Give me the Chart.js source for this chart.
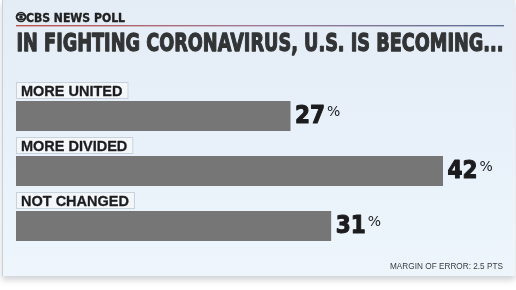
<!DOCTYPE html>
<html>
<head>
<meta charset="utf-8">
<script src="https://cdn.jsdelivr.net/npm/chart.js@4"></script>
<style>
  html, body { margin: 0; padding: 0; background: #ffffff; }
  #wrap { position: relative; width: 516px; height: 290px; }
  #panel {
    position: absolute; left: 2px; top: 0; width: 512px; height: 276px;
    background: linear-gradient(180deg, #e4edf6 0%, #e9f2fa 60%, #eef6fc 100%);
    border-left: 1px solid #c9d0d8;
    box-shadow: 0 4px 6px rgba(120,130,140,0.35);
  }
  canvas { position: absolute; left: 0; top: 0; }
</style>
</head>
<body>
<div id="wrap">
  <div id="panel"></div>
  <canvas id="poll" width="516" height="290"></canvas>
</div>
<script>
// Data
const categories = ['MORE UNITED', 'MORE DIVIDED', 'NOT CHANGED'];
const values = [27, 42, 31];
const brand = 'CBS NEWS POLL';
const title = 'IN FIGHTING CORONAVIRUS, U.S. IS BECOMING...';
const footnote = 'MARGIN OF ERROR: 2.5 PTS';

const ctx = document.getElementById('poll').getContext('2d');

// draw text squeezed to a given width, optionally thickened with a stroke
function fitText(c, txt, x, y, w, stroke) {
  const mw = c.measureText(txt).width;
  c.save();
  c.translate(x, y);
  c.scale(w / mw, 1);
  c.fillText(txt, 0, 0);
  if (stroke) {
    c.strokeStyle = c.fillStyle;
    c.lineWidth = stroke;
    c.lineJoin = 'round';
    c.strokeText(txt, 0, 0);
  }
  c.restore();
}

// header, category boxes, value labels
const decor = {
  id: 'decor',
  afterDatasetsDraw(chart) {
    const c = chart.ctx;
    c.save();
    c.textBaseline = 'alphabetic';
    c.textAlign = 'left';

    // CBS eye + brand
    c.fillStyle = '#222';
    c.strokeStyle = '#222';
    c.lineWidth = 1.5;
    c.beginPath();
    c.arc(21, 17, 4.5, 0, Math.PI * 2);
    c.stroke();
    c.beginPath();
    c.ellipse(21, 17, 4.5, 2.4, 0, 0, Math.PI * 2);
    c.stroke();
    c.beginPath();
    c.arc(21, 17, 1.8, 0, Math.PI * 2);
    c.fill();
    c.font = 'bold 11.5px "DejaVu Sans", sans-serif';
    fitText(c, brand, 26, 21.5, 99, 0.4);

    // red-to-blue rule
    const g = c.createLinearGradient(16, 0, 504, 0);
    g.addColorStop(0, '#c0504d');
    g.addColorStop(0.5, '#a07c98');
    g.addColorStop(1, '#5d6f96');
    c.fillStyle = g;
    c.fillRect(16, 25, 488, 1.4);

    // headline
    c.fillStyle = '#323436';
    c.font = 'bold 25px "DejaVu Sans", sans-serif';
    fitText(c, title, 16.5, 50.5, 487, 1.3);

    // category boxes and value labels
    const meta = chart.getDatasetMeta(0);
    meta.data.forEach((bar, i) => {
      const top = bar.y - bar.height / 2;
      c.font = 'bold 14.5px "Liberation Sans", Arial, sans-serif';
      const lw = c.measureText(categories[i]).width;
      c.fillStyle = '#f4f7fa';
      c.strokeStyle = '#c8d2dc';
      c.lineWidth = 1;
      c.fillRect(16, top - 19, lw + 11, 17);
      c.strokeRect(16.5, top - 18.5, lw + 10, 16);
      c.fillStyle = '#1c1c1e';
      fitText(c, categories[i], 21, top - 5, lw, 0.3);

      c.font = 'bold 24px "DejaVu Sans", sans-serif';
      const num = String(values[i]);
      const nx = bar.x + 4.5;
      fitText(c, num, nx, bar.y + 7, 30, 1.1);
      c.font = '14px "DejaVu Sans", sans-serif';
      c.fillText('%', nx + 32, bar.y);
    });

    // footnote
    c.font = '9px "Liberation Sans", Arial, sans-serif';
    c.fillStyle = '#3a3d40';
    fitText(c, footnote, 390, 269, 113);
    c.restore();
  }
};

const data = {
  labels: categories,
  datasets: [{
    data: values,
    backgroundColor: '#767677',
    borderWidth: 0,
    barPercentage: 1,
    categoryPercentage: 30 / 55
  }]
};

const chart = new Chart(ctx, {
  type: 'bar',
  data: data,
  options: {
    indexAxis: 'y',
    responsive: false,
    animation: false,
    layout: {
      padding: { left: 16, right: 12, top: 88.5, bottom: 36.5 }
    },
    scales: {
      x: { display: false, min: 0, max: 48 },
      y: { display: false }
    },
    plugins: {
      legend: { display: false },
      tooltip: { enabled: false }
    }
  },
  plugins: [decor]
});
</script>
</body>
</html>
